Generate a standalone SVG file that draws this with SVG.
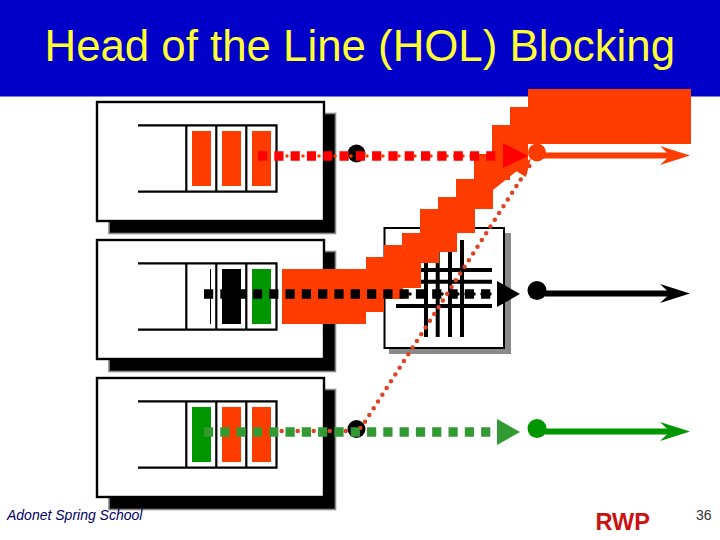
<svg xmlns="http://www.w3.org/2000/svg" width="720" height="540" viewBox="0 0 720 540">
<style>
.t{font-family:"Liberation Sans",Arial,sans-serif}
.box{fill:#fff;stroke:#000;stroke-width:2.4}
.shadow{fill:#000;stroke:#8a8a8a;stroke-width:1.6}
.q{fill:none;stroke:#000;stroke-width:2.2}
.o{fill:#ff3c00}.g{fill:#009600}.k{fill:#000}
.grid{stroke:#000;stroke-width:4;fill:none}
.sq{fill:none;stroke-width:9.400;stroke-dasharray:9.200 7.100}
.dots{fill:none;stroke-linecap:round;stroke-dasharray:0 8}
</style>
<defs>
<g id="queue">
<path class="q" d="M138 125.3H276.5V191.7H138M186.3 125.3V191.7M216.3 125.3V191.7M246.3 125.3V191.7"/>
</g>
<path id="head" d="M-30-9.500L0 0L-30 9.500L-20 0Z"/>
</defs>
<rect x="0" y="0" width="720" height="96.500" fill="#0000c8"/>
<text class="t" x="44.500" y="61" font-size="43.800" fill="#ffff33">Head of the Line (HOL) Blocking</text>

<g id="input1">
<rect class="shadow" x="109" y="113.500" width="226.500" height="120"/>
<rect class="box" x="97" y="102" width="227" height="119"/>
<use href="#queue"/>
<rect class="o" x="192" y="131" width="19" height="55"/>
<rect class="o" x="222" y="131" width="19" height="55"/>
<rect class="o" x="252" y="131" width="19" height="55"/>
</g>
<g id="input2" transform="translate(0 138)">
<rect class="shadow" x="109" y="113.500" width="226.500" height="120"/>
<rect class="box" x="97" y="102" width="227" height="119"/>
<use href="#queue"/>
<path d="M210.500 131V186" stroke="#000" stroke-width="1" fill="none"/>
<rect class="k" x="222" y="131" width="19" height="55"/>
<rect class="g" x="252" y="131" width="19" height="55"/>
</g>
<g id="input3" transform="translate(0 276)">
<rect class="shadow" x="109" y="113.500" width="226.500" height="120"/>
<rect class="box" x="97" y="102" width="227" height="119"/>
<use href="#queue"/>
<rect class="g" x="192" y="131" width="19" height="55"/>
<rect class="o" x="222" y="131" width="19" height="55"/>
<rect class="o" x="252" y="131" width="19" height="55"/>
</g>
<g id="switch">
<rect x="389" y="233" width="122" height="121" fill="#8a8a8a"/>
<rect x="384.500" y="228" width="119.500" height="120" fill="#fff" stroke="#000" stroke-width="2"/>
<path class="grid" d="M426 240V337M437.700 240V337M450 240V337M462 240V337M396 270H492M396 281.700H492M396 306H492"/>
</g>
<g id="burst">
<path class="o" d="M282 269H366V257H384V245H402V233H420V209H438V197H456V179H474V154H492V125H510V107H528V89H691V144H528V162H510V180H493V209H475V233H457V252H439V263H421V288H403V299H384V312H366V324H282Z"/>
</g>
<g id="connectors">
<circle cx="356.500" cy="153.500" r="9" fill="#000"/>
<circle cx="356.500" cy="429" r="9" fill="#000"/>
<path d="M493 190L527 163L510 150L493 170Z" fill="#ff3c00"/>
<path d="M516 171L531 158L526 177Z" fill="#ff3c00"/>
<circle cx="537" cy="152.500" r="9" fill="#ff3c00"/>
<path d="M537 155.500H672" stroke="#ff3c00" stroke-width="6" fill="none"/>
<use href="#head" transform="translate(690 155.500)" fill="#ff3c00"/>
<circle cx="537" cy="290.500" r="9.500" fill="#000"/>
<path d="M537 293.500H672" stroke="#000" stroke-width="6" fill="none"/>
<use href="#head" transform="translate(690 293.500)" fill="#000"/>
<circle cx="537" cy="428.500" r="9.500" fill="#009600"/>
<path d="M537 431.500H672" stroke="#009600" stroke-width="6" fill="none"/>
<use href="#head" transform="translate(690 431.500)" fill="#009600"/>
<path class="dots" d="M287 156H500" stroke="#ff3c00" stroke-width="3.500"/>
<path class="sq" d="M258 156H500" stroke="#ff0000"/>
<path d="M503 143L528 156L503 168Z" fill="#ff0000"/>
<path class="dots" d="M402 294H492" stroke="#000" stroke-width="3.500"/>
<path class="sq" d="M204 294H494" stroke="#000"/>
<path d="M497 281L520 294L497 307Z" fill="#000"/>
<path class="dots" d="M281.700 431H358L365 421.700L530 165" stroke="#dd4422" stroke-width="4.500"/>
<path class="sq" d="M204 432H494" stroke="#339933"/>
<path d="M497 419L520 432L497 445Z" fill="#339933"/>
</g>
<text class="t" x="7" y="520" font-size="14" font-style="italic" fill="#000066">Adonet Spring School</text>
<text class="t" x="595.500" y="530" font-size="23.500" font-weight="bold" fill="#cc1111">RWP</text>
<text class="t" x="696" y="520" font-size="14" fill="#333">36</text>
</svg>
